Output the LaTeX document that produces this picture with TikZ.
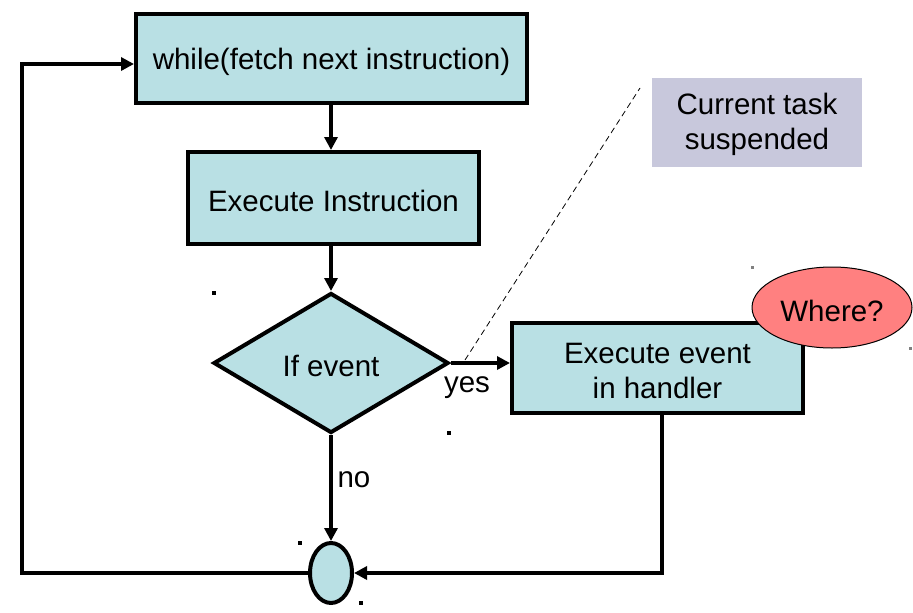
\documentclass[tikz,border=0pt]{standalone}
\usepackage{fontspec}
\setmainfont{Liberation Sans}
\usetikzlibrary{shapes.geometric,arrows.meta}
\definecolor{boxfill}{RGB}{185,224,228}
\definecolor{notefill}{RGB}{200,200,220}
\definecolor{wherefill}{RGB}{255,128,128}
\tikzset{
  bigfont/.style={font=\fontsize{29.5}{35}\selectfont},
  flowbox/.style={draw=black,line width=4pt,fill=boxfill,inner sep=0pt},
  txt/.style={bigfont,align=center,inner sep=0pt,yshift=-3pt},
  conn/.style={line width=4pt,-{Triangle[length=13pt,width=13pt]}},
  lbl/.style={bigfont,inner sep=0pt},
  handle/.style={fill=black,inner sep=0pt,minimum size=4pt},
}
\begin{document}
\begin{tikzpicture}[x=1pt,y=-1pt]
\useasboundingbox (0,0) rectangle (913,613);
\node[flowbox,minimum width=391pt,minimum height=89pt,label={[txt]center:while(fetch next instruction)}] (fetch) at (331.5,58.5) {};
\node[flowbox,minimum width=291pt,minimum height=92pt,label={[txt]center:Execute Instruction}] (exec) at (333.5,198) {};
\node[flowbox,diamond,aspect=1.68,minimum width=235pt,minimum height=140pt,label={[txt]center:If event}] (ifev) at (331,363) {};
\node[flowbox,minimum width=291pt,minimum height=90pt,label={[txt]center:Execute event\\in handler}] (handler) at (657.5,368) {};
\node[flowbox,ellipse,line width=1pt,fill=wherefill,minimum width=160pt,minimum height=81pt,label={[txt]center:Where?}] (where) at (832,307.5) {};
\node[fill=notefill,minimum width=210pt,minimum height=89pt,inner sep=0pt,label={[txt,yshift=1pt]center:Current task\\suspended}] (note) at (757,122.5) {};
\node[flowbox,ellipse,minimum width=42pt,minimum height=60pt] (join) at (331,573) {};
\coordinate (topleft) at (22,64);
\coordinate (botleft) at (22,573);
\coordinate (botright) at (662,573);
\coordinate (dashA) at (465,360);
\coordinate (dashB) at (640,88);
\draw[conn] (fetch.south -| ifev.north) -- (exec.north -| ifev.north);
\draw[conn] (exec.south -| ifev.north) -- (ifev.north);
\draw[conn] (ifev.east) -- (ifev.east -| handler.west);
\draw[conn] (ifev.south) -- (join.north);
\draw[conn] (join.west) -- (botleft) -- (topleft) -- (fetch.west |- topleft);
\draw[conn] (handler.south -| botright) -- (botright) -- (join.east);
\draw[dash pattern=on 6pt off 4pt,line width=0.8pt] (dashA) -- (dashB);
\node[lbl] (yes) at (467,388) {yes};
\node[lbl] (no) at (354,480) {no};
\node[handle] (h1) at (214,293) {};
\node[handle] (h2) at (449,433) {};
\node[handle] (h3) at (300,543) {};
\node[handle] (h4) at (361,603) {};
\node[handle,fill=gray,minimum size=3pt] (h5) at (752,267) {};
\node[handle,fill=gray,minimum size=3pt] (h6) at (910,348) {};
\end{tikzpicture}
\end{document}
